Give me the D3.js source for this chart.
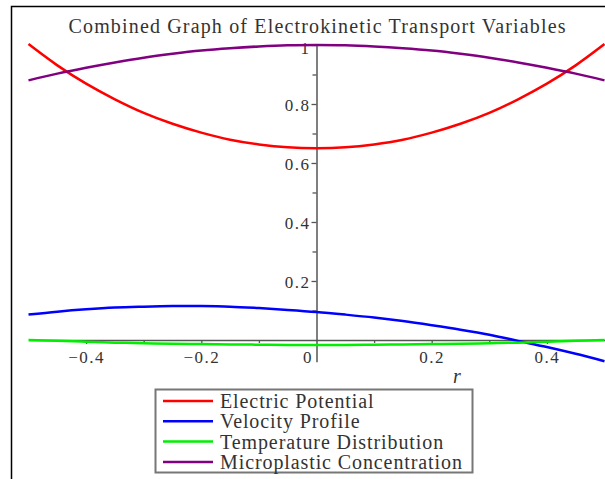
<html>
<head>
<script src="https://d3js.org/d3.v7.min.js"></script>
<style>
body { margin: 0; background: #fff; }
text { font-family: "Liberation Serif", "DejaVu Serif", serif; fill: #333; }
</style>
</head>
<body>
<svg width="605" height="479"></svg>
<script>
// r positions across the channel
const rValues = [-0.5, -0.45, -0.4, -0.35, -0.3, -0.25, -0.2, -0.15, -0.1, -0.05, 0,
                 0.05, 0.1, 0.15, 0.2, 0.25, 0.3, 0.35, 0.4, 0.45, 0.5];
const electricPotential = [1.003, 0.931, 0.869, 0.816, 0.770, 0.733, 0.703, 0.679, 0.663, 0.653, 0.650,
                           0.653, 0.663, 0.679, 0.703, 0.733, 0.770, 0.816, 0.869, 0.931, 1.003];
const velocityProfile = [0.086, 0.096, 0.104, 0.110, 0.113, 0.115, 0.115, 0.113, 0.108, 0.102, 0.095,
                         0.086, 0.076, 0.064, 0.050, 0.035, 0.018, -0.003, -0.024, -0.047, -0.072];
const temperatureDist = [0.000, -0.003, -0.006, -0.009, -0.011, -0.013, -0.014, -0.015, -0.016, -0.017, -0.017,
                         -0.017, -0.016, -0.015, -0.014, -0.013, -0.011, -0.009, -0.006, -0.003, 0.000];
const microplastic = [0.880, 0.903, 0.923, 0.941, 0.957, 0.970, 0.981, 0.989, 0.995, 0.999, 1.000,
                      0.999, 0.995, 0.989, 0.981, 0.970, 0.957, 0.941, 0.923, 0.903, 0.880];
const seriesNames = ["Electric Potential", "Velocity Profile", "Temperature Distribution", "Microplastic Concentration"];
const seriesColors = ["#ff0000", "#0000ff", "#00ee00", "#800080"];
const xTicks = [-0.4, -0.2, 0, 0.2, 0.4];
const xMinorTicks = [-0.3, -0.1, 0.1, 0.3];
const yTicks = [0.2, 0.4, 0.6, 0.8, 1];
const yMinorTicks = [0.1, 0.3, 0.5, 0.7, 0.9];

const svg = d3.select('svg');
const xs = d3.scaleLinear().domain([-0.5, 0.5]).range([28.5, 604.5]);
const ys = d3.scaleLinear().domain([-0.074, 1.0]).range([361.8, 45]);
const fmt = v => v === 0 ? "0" : (v < 0 ? "\u2212" : "") + Math.abs(v).toString();

// outer frame (left + top edges only)
svg.append('path')
    .attr('d', 'M11.5,479 L11.5,6.5 L605,6.5')
    .attr('fill', 'none').attr('stroke', '#000').attr('stroke-width', 1.5);

svg.append('text')
    .attr('x', 317).attr('y', 33)
    .attr('text-anchor', 'middle')
    .style('font-size', '20px')
    .attr('textLength', 497).attr('lengthAdjust', 'spacing')
    .text('Combined Graph of Electrokinetic Transport Variables');

// x axis
const gx = svg.append('g')
    .attr('transform', `translate(0,${ys(0)})`)
    .call(d3.axisBottom(xs).tickValues(xTicks).tickSize(4).tickSizeOuter(0).tickFormat(fmt));
gx.selectAll('.tick').filter(d => d === 0).select('line').remove();
svg.append('g')
    .attr('transform', `translate(0,${ys(0)})`)
    .call(d3.axisBottom(xs).tickValues(xMinorTicks).tickSize(3).tickFormat(''))
    .select('.domain').remove();

// y axis
const gy = svg.append('g')
    .attr('transform', `translate(${xs(0)},0)`)
    .call(d3.axisLeft(ys).tickValues(yTicks).tickSize(5).tickSizeOuter(0).tickFormat(fmt));
svg.append('g')
    .attr('transform', `translate(${xs(0)},0)`)
    .call(d3.axisLeft(ys).tickValues(yMinorTicks).tickSize(4).tickFormat(''))
    .select('.domain').remove();

svg.selectAll('.domain').attr('stroke', '#555').attr('stroke-width', 1.5);
svg.selectAll('.tick line').attr('stroke', '#555').attr('stroke-width', 1.3);
svg.selectAll('.tick text')
    .style('font-family', '"Liberation Serif", serif')
    .style('font-size', '17px').style('letter-spacing', '1.5px')
    .attr('fill', '#444');
gx.selectAll('.tick text')
    .attr('y', 9).attr('dy', '0.8em')
    .attr('dx', d => d === 0 ? -9 : 0);
gy.selectAll('.tick text')
    .attr('x', -6).attr('dy', d => d === 1 ? '0.5em' : '0.38em');

svg.append('text')
    .attr('x', 457).attr('y', 383)
    .attr('text-anchor', 'middle')
    .style('font-size', '20px').style('font-style', 'italic')
    .text('r');

// curves
const allSeries = [electricPotential, velocityProfile, temperatureDist, microplastic];
const line = d3.line().x(d => xs(d[0])).y(d => ys(d[1])).curve(d3.curveCatmullRom);
svg.append('g').selectAll('path')
    .data(allSeries)
    .enter()
    .append('path')
        .attr('d', vals => line(rValues.map((r, i) => [r, vals[i]])))
        .attr('fill', 'none')
        .attr('stroke', (d, i) => seriesColors[i])
        .attr('stroke-width', 2.5);

// legend
const lg = svg.append('g');
lg.append('rect')
    .attr('x', 155.5).attr('y', 389.5).attr('width', 317).attr('height', 83)
    .attr('fill', '#fff').attr('stroke', '#777').attr('stroke-width', 2);
const rows = lg.selectAll('g.row')
    .data(seriesNames)
    .enter()
    .append('g')
        .attr('transform', (d, i) => `translate(0,${401 + i * 20.3})`);
rows.append('line')
    .attr('x1', 163).attr('x2', 213)
    .attr('stroke', (d, i) => seriesColors[i]).attr('stroke-width', 2.5);
rows.append('text')
    .attr('x', 220).attr('y', 7)
    .style('font-size', '20px').style('letter-spacing', '0.9px')
    .text(d => d);
</script>
</body>
</html>
